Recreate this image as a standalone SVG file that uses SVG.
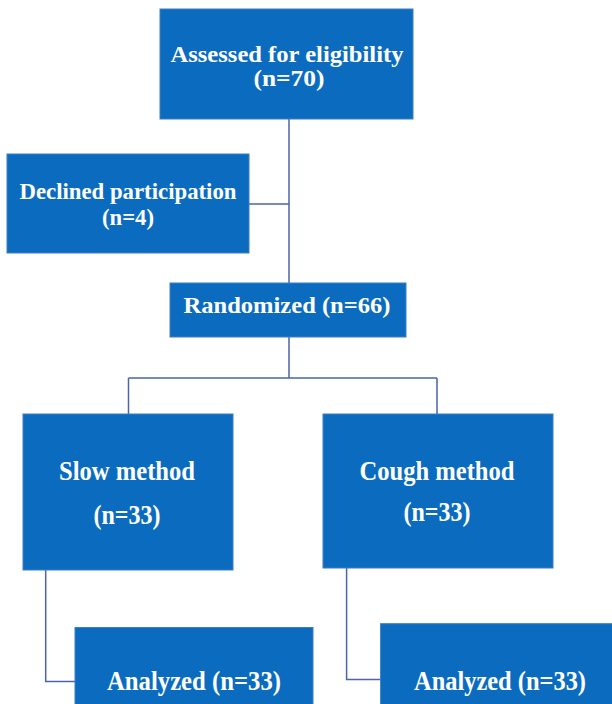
<svg xmlns="http://www.w3.org/2000/svg" width="612" height="704" viewBox="0 0 612 704">
<style>
.box{fill:#0b6cbf;stroke:#3f7cc4;stroke-width:1}
.t{font-family:"Liberation Serif","Times New Roman",serif;font-weight:bold;fill:#ffffff;text-anchor:middle}
.c{fill:none;stroke:#4a66a8;stroke-width:1.5}
</style>
<rect width="612" height="704" fill="#ffffff"/>
<g id="connectors">
<path class="c" d="M289,119 V283"/>
<path class="c" d="M249,204 H289"/>
<path class="c" d="M289,337 V378 M128.5,378 H437 M128.5,378 V414 M437,378 V414"/>
<path class="c" d="M45.7,570 V681.5 H75"/>
<path class="c" d="M346.6,568 V679.5 H380.6"/>
</g>
<g id="assessed">
<rect class="box" x="160" y="9" width="253" height="110"/>
<text class="t" x="287" y="62" font-size="24" textLength="233" lengthAdjust="spacingAndGlyphs">Assessed for eligibility</text>
<text class="t" x="289" y="86" font-size="24" textLength="71" lengthAdjust="spacingAndGlyphs">(n=70)</text>
</g>
<g id="declined">
<rect class="box" x="7" y="154" width="242" height="99"/>
<text class="t" x="128" y="199" font-size="23" textLength="217" lengthAdjust="spacingAndGlyphs">Declined participation</text>
<text class="t" x="128" y="225" font-size="23" textLength="52" lengthAdjust="spacingAndGlyphs">(n=4)</text>
</g>
<g id="randomized">
<rect class="box" x="170" y="283" width="236" height="54"/>
<text class="t" x="287" y="313" font-size="24" textLength="207" lengthAdjust="spacingAndGlyphs">Randomized (n=66)</text>
</g>
<g id="slow">
<rect class="box" x="23" y="414" width="210" height="156"/>
<text class="t" x="127" y="480" font-size="27" textLength="136" lengthAdjust="spacingAndGlyphs">Slow method</text>
<text class="t" x="127" y="524" font-size="27" textLength="67" lengthAdjust="spacingAndGlyphs">(n=33)</text>
</g>
<g id="cough">
<rect class="box" x="323" y="414" width="230" height="154"/>
<text class="t" x="437" y="480" font-size="27" textLength="155" lengthAdjust="spacingAndGlyphs">Cough method</text>
<text class="t" x="437" y="521" font-size="27" textLength="67" lengthAdjust="spacingAndGlyphs">(n=33)</text>
</g>
<g id="analyzed-slow">
<rect class="box" x="75" y="627.5" width="238" height="90"/>
<text class="t" x="194" y="690" font-size="27" textLength="174" lengthAdjust="spacingAndGlyphs">Analyzed (n=33)</text>
</g>
<g id="analyzed-cough">
<rect class="box" x="380.6" y="623.7" width="240" height="90"/>
<text class="t" x="500" y="690" font-size="27" textLength="172" lengthAdjust="spacingAndGlyphs">Analyzed (n=33)</text>
</g>
</svg>
